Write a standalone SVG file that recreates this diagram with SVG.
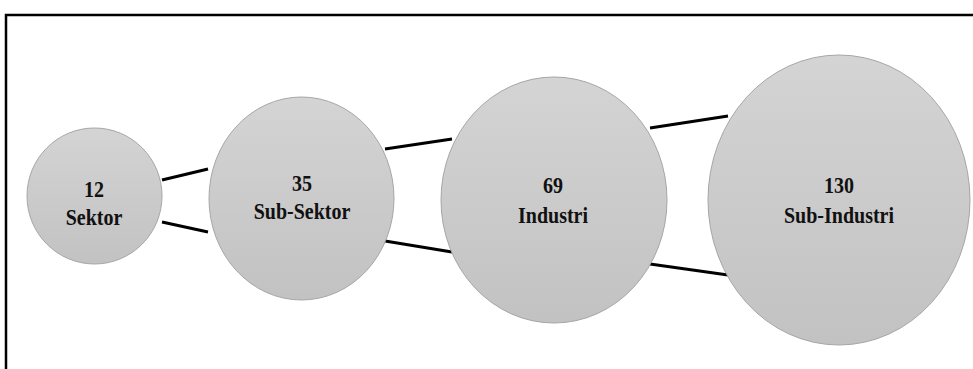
<svg xmlns="http://www.w3.org/2000/svg" width="973" height="369" viewBox="0 0 973 369">
<style>
.node{fill:url(#g);stroke:#a6a6a6;stroke-width:1}
.lbl{font-family:"Liberation Serif","Times New Roman",serif;font-weight:bold;font-size:23px;fill:#111;text-anchor:middle}
.conn line{stroke:#000;stroke-width:3}
</style>
<defs>
<linearGradient id="g" x1="0" y1="0" x2="0" y2="1">
<stop offset="0" stop-color="#d4d4d4"/>
<stop offset="1" stop-color="#c2c2c2"/>
</linearGradient>
</defs>
<rect width="973" height="369" fill="#fff"/>
<path d="M6 369 V15 H973" fill="none" stroke="#000" stroke-width="2.5"/>
<g id="connectors" class="conn">
<line x1="162" y1="180" x2="208" y2="169"/>
<line x1="162" y1="222" x2="208" y2="232"/>
<line x1="385" y1="149" x2="452" y2="139"/>
<line x1="385" y1="241" x2="452" y2="252"/>
<line x1="650" y1="128" x2="728" y2="116"/>
<line x1="650" y1="264" x2="728" y2="275"/>
</g>
<g id="sektor">
<ellipse class="node" cx="94.5" cy="196" rx="67.5" ry="68"/>
<g transform="translate(94,0) scale(0.87,1)"><text class="lbl" x="0" y="197">12</text><text class="lbl" x="0" y="225">Sektor</text></g>
</g>
<g id="sub-sektor">
<ellipse class="node" cx="301.5" cy="198.5" rx="92.5" ry="101.5"/>
<g transform="translate(302,0) scale(0.87,1)"><text class="lbl" x="0" y="191">35</text><text class="lbl" x="0" y="219">Sub-Sektor</text></g>
</g>
<g id="industri">
<ellipse class="node" cx="554" cy="200" rx="113" ry="123"/>
<g transform="translate(553,0) scale(0.87,1)"><text class="lbl" x="0" y="193">69</text><text class="lbl" x="0" y="223">Industri</text></g>
</g>
<g id="sub-industri">
<ellipse class="node" cx="839" cy="200" rx="131" ry="145"/>
<g transform="translate(839,0) scale(0.87,1)"><text class="lbl" x="0" y="193">130</text><text class="lbl" x="0" y="223">Sub-Industri</text></g>
</g>
</svg>
